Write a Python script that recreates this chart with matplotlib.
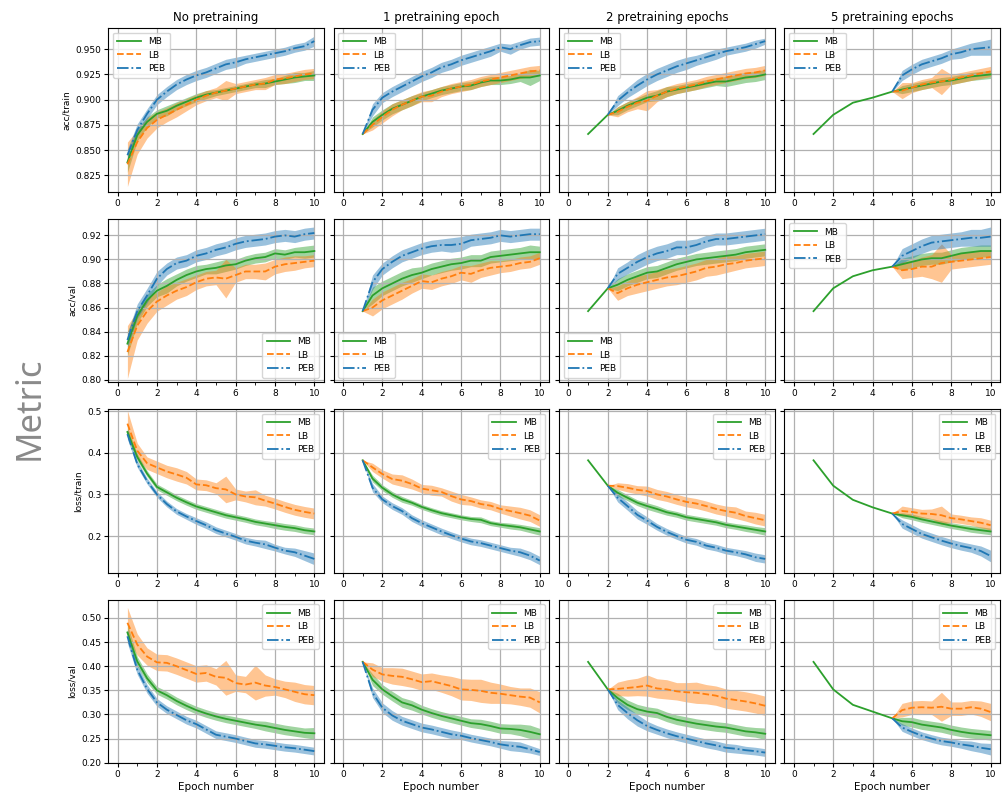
import matplotlib
matplotlib.use('Agg')
import matplotlib.pyplot as plt
from matplotlib.ticker import MultipleLocator

# epoch grids
x_p0 = [0.5, 1.0, 1.5, 2.0, 2.5, 3.0, 3.5, 4.0, 4.5, 5.0, 5.5, 6.0, 6.5, 7.0, 7.5, 8.0, 8.5, 9.0, 9.5, 10.0]
x_p1 = [1.5, 2.0, 2.5, 3.0, 3.5, 4.0, 4.5, 5.0, 5.5, 6.0, 6.5, 7.0, 7.5, 8.0, 8.5, 9.0, 9.5, 10.0]
x_p2 = [2.5, 3.0, 3.5, 4.0, 4.5, 5.0, 5.5, 6.0, 6.5, 7.0, 7.5, 8.0, 8.5, 9.0, 9.5, 10.0]
x_p5 = [5.5, 6.0, 6.5, 7.0, 7.5, 8.0, 8.5, 9.0, 9.5, 10.0]
x_pre = [1, 2, 3, 4, 5]

col_titles = ['No pretraining', '1 pretraining epoch', '2 pretraining epochs', '5 pretraining epochs']
pretrain_epochs = [0, 1, 2, 5]
metrics = ['acc_train', 'acc_val', 'loss_train', 'loss_val']
row_labels = ['acc/train', 'acc/val', 'loss/train', 'loss/val']
series = ['MB', 'LB', 'PEB']

# MB pretraining curve (shared by the pretrained columns)
pre_acc_train = [0.866, 0.885, 0.897, 0.902, 0.908]
pre_acc_val = [0.857, 0.876, 0.886, 0.891, 0.894]
pre_loss_train = [0.382, 0.321, 0.287, 0.269, 0.254]
pre_loss_val = [0.409, 0.352, 0.320, 0.306, 0.292]

# ---- acc/train ----
acc_train_p0_mb = [0.838, 0.865, 0.878, 0.886, 0.889, 0.894, 0.898, 0.902, 0.905, 0.907, 0.909, 0.911, 0.913, 0.915, 0.916, 0.918, 0.920, 0.922, 0.923, 0.924]
acc_train_p0_mb_sd = [0.010, 0.006, 0.005, 0.004, 0.005, 0.004, 0.004, 0.004, 0.004, 0.003, 0.003, 0.003, 0.003, 0.003, 0.004, 0.003, 0.004, 0.005, 0.004, 0.005]
acc_train_p0_lb = [0.836, 0.858, 0.872, 0.880, 0.885, 0.890, 0.895, 0.900, 0.904, 0.907, 0.909, 0.911, 0.913, 0.915, 0.916, 0.920, 0.921, 0.923, 0.925, 0.926]
acc_train_p0_lb_sd = [0.022, 0.012, 0.010, 0.008, 0.007, 0.007, 0.006, 0.005, 0.005, 0.005, 0.010, 0.005, 0.005, 0.005, 0.006, 0.005, 0.005, 0.005, 0.005, 0.005]
acc_train_p0_peb = [0.845, 0.870, 0.886, 0.900, 0.908, 0.915, 0.920, 0.924, 0.927, 0.931, 0.935, 0.937, 0.940, 0.942, 0.944, 0.946, 0.948, 0.951, 0.953, 0.958]
acc_train_p0_peb_sd = [0.006, 0.006, 0.005, 0.005, 0.005, 0.005, 0.005, 0.005, 0.005, 0.005, 0.005, 0.005, 0.004, 0.004, 0.004, 0.004, 0.004, 0.004, 0.004, 0.005]

acc_train_p1_mb = [0.878, 0.885, 0.891, 0.895, 0.899, 0.903, 0.906, 0.909, 0.911, 0.913, 0.914, 0.917, 0.919, 0.919, 0.920, 0.922, 0.922, 0.924]
acc_train_p1_mb_sd = [0.005, 0.005, 0.005, 0.005, 0.005, 0.004, 0.004, 0.004, 0.004, 0.004, 0.004, 0.004, 0.004, 0.004, 0.004, 0.004, 0.008, 0.005]
acc_train_p1_lb = [0.875, 0.883, 0.890, 0.895, 0.899, 0.903, 0.904, 0.908, 0.911, 0.913, 0.915, 0.918, 0.920, 0.922, 0.924, 0.926, 0.928, 0.929]
acc_train_p1_lb_sd = [0.005, 0.006, 0.006, 0.005, 0.005, 0.005, 0.006, 0.005, 0.005, 0.005, 0.005, 0.005, 0.005, 0.005, 0.005, 0.005, 0.005, 0.005]
acc_train_p1_peb = [0.890, 0.902, 0.908, 0.913, 0.918, 0.923, 0.927, 0.932, 0.935, 0.939, 0.942, 0.945, 0.948, 0.952, 0.950, 0.954, 0.957, 0.958]
acc_train_p1_peb_sd = [0.006, 0.005, 0.005, 0.005, 0.005, 0.005, 0.005, 0.005, 0.005, 0.005, 0.005, 0.005, 0.005, 0.004, 0.005, 0.004, 0.004, 0.004]

acc_train_p2_mb = [0.889, 0.894, 0.898, 0.902, 0.904, 0.908, 0.910, 0.912, 0.914, 0.916, 0.918, 0.918, 0.920, 0.922, 0.923, 0.925]
acc_train_p2_mb_sd = [0.004, 0.004, 0.004, 0.004, 0.005, 0.005, 0.004, 0.004, 0.004, 0.004, 0.004, 0.005, 0.005, 0.005, 0.005, 0.005]
acc_train_p2_lb = [0.888, 0.893, 0.897, 0.899, 0.904, 0.908, 0.911, 0.913, 0.915, 0.918, 0.920, 0.922, 0.924, 0.926, 0.927, 0.929]
acc_train_p2_lb_sd = [0.005, 0.005, 0.006, 0.010, 0.006, 0.005, 0.005, 0.005, 0.005, 0.005, 0.005, 0.005, 0.005, 0.005, 0.005, 0.005]
acc_train_p2_peb = [0.899, 0.907, 0.914, 0.920, 0.925, 0.929, 0.933, 0.936, 0.939, 0.942, 0.945, 0.948, 0.950, 0.952, 0.955, 0.958]
acc_train_p2_peb_sd = [0.005, 0.005, 0.006, 0.006, 0.006, 0.006, 0.006, 0.006, 0.005, 0.005, 0.005, 0.004, 0.004, 0.004, 0.004, 0.003]

acc_train_p5_mb = [0.910, 0.912, 0.914, 0.916, 0.918, 0.919, 0.921, 0.923, 0.924, 0.925]
acc_train_p5_mb_sd = [0.004, 0.004, 0.004, 0.004, 0.004, 0.004, 0.004, 0.004, 0.004, 0.004]
acc_train_p5_lb = [0.909, 0.912, 0.915, 0.917, 0.918, 0.920, 0.922, 0.924, 0.926, 0.928]
acc_train_p5_lb_sd = [0.008, 0.005, 0.005, 0.005, 0.013, 0.005, 0.005, 0.005, 0.005, 0.005]
acc_train_p5_peb = [0.924, 0.930, 0.935, 0.938, 0.941, 0.945, 0.947, 0.950, 0.951, 0.952]
acc_train_p5_peb_sd = [0.005, 0.005, 0.005, 0.005, 0.005, 0.005, 0.006, 0.006, 0.007, 0.008]

# ---- acc/val ----
acc_val_p0_mb = [0.830, 0.853, 0.866, 0.874, 0.878, 0.883, 0.887, 0.890, 0.892, 0.893, 0.895, 0.896, 0.899, 0.901, 0.902, 0.905, 0.904, 0.906, 0.906, 0.907]
acc_val_p0_mb_sd = [0.010, 0.006, 0.005, 0.005, 0.006, 0.005, 0.005, 0.005, 0.004, 0.005, 0.005, 0.004, 0.004, 0.004, 0.004, 0.004, 0.004, 0.004, 0.005, 0.005]
acc_val_p0_lb = [0.823, 0.845, 0.857, 0.865, 0.870, 0.874, 0.877, 0.881, 0.884, 0.885, 0.884, 0.887, 0.890, 0.890, 0.890, 0.894, 0.896, 0.897, 0.898, 0.899]
acc_val_p0_lb_sd = [0.022, 0.012, 0.010, 0.008, 0.008, 0.007, 0.007, 0.006, 0.006, 0.006, 0.016, 0.006, 0.006, 0.006, 0.007, 0.006, 0.006, 0.006, 0.005, 0.005]
acc_val_p0_peb = [0.833, 0.857, 0.870, 0.884, 0.892, 0.897, 0.899, 0.903, 0.905, 0.908, 0.910, 0.913, 0.915, 0.916, 0.917, 0.919, 0.920, 0.919, 0.921, 0.922]
acc_val_p0_peb_sd = [0.006, 0.006, 0.006, 0.006, 0.005, 0.005, 0.005, 0.005, 0.005, 0.005, 0.005, 0.005, 0.005, 0.005, 0.005, 0.005, 0.005, 0.005, 0.005, 0.005]

acc_val_p1_mb = [0.870, 0.876, 0.880, 0.884, 0.887, 0.889, 0.892, 0.894, 0.896, 0.897, 0.899, 0.899, 0.902, 0.903, 0.904, 0.905, 0.906, 0.906]
acc_val_p1_mb_sd = [0.007, 0.006, 0.006, 0.006, 0.006, 0.005, 0.005, 0.005, 0.005, 0.005, 0.005, 0.005, 0.005, 0.005, 0.005, 0.005, 0.006, 0.005]
acc_val_p1_lb = [0.860, 0.866, 0.870, 0.874, 0.878, 0.882, 0.881, 0.884, 0.886, 0.889, 0.888, 0.891, 0.893, 0.894, 0.895, 0.897, 0.898, 0.901]
acc_val_p1_lb_sd = [0.007, 0.007, 0.007, 0.007, 0.006, 0.006, 0.006, 0.006, 0.006, 0.006, 0.007, 0.006, 0.006, 0.005, 0.005, 0.005, 0.005, 0.005]
acc_val_p1_peb = [0.881, 0.892, 0.898, 0.903, 0.906, 0.909, 0.911, 0.912, 0.912, 0.913, 0.916, 0.917, 0.918, 0.920, 0.919, 0.920, 0.921, 0.921]
acc_val_p1_peb_sd = [0.006, 0.005, 0.005, 0.005, 0.005, 0.005, 0.005, 0.005, 0.006, 0.006, 0.005, 0.005, 0.005, 0.005, 0.005, 0.005, 0.005, 0.005]

acc_val_p2_mb = [0.879, 0.883, 0.886, 0.889, 0.890, 0.893, 0.896, 0.898, 0.900, 0.901, 0.902, 0.903, 0.904, 0.906, 0.907, 0.908]
acc_val_p2_mb_sd = [0.005, 0.005, 0.005, 0.005, 0.005, 0.005, 0.005, 0.005, 0.005, 0.005, 0.005, 0.005, 0.005, 0.005, 0.005, 0.005]
acc_val_p2_lb = [0.872, 0.876, 0.879, 0.881, 0.883, 0.885, 0.886, 0.888, 0.890, 0.893, 0.894, 0.896, 0.897, 0.899, 0.900, 0.901]
acc_val_p2_lb_sd = [0.006, 0.006, 0.007, 0.007, 0.007, 0.007, 0.007, 0.007, 0.007, 0.007, 0.007, 0.007, 0.006, 0.006, 0.006, 0.006]
acc_val_p2_peb = [0.888, 0.893, 0.898, 0.902, 0.905, 0.907, 0.910, 0.910, 0.912, 0.915, 0.917, 0.917, 0.918, 0.919, 0.920, 0.921]
acc_val_p2_peb_sd = [0.005, 0.005, 0.006, 0.006, 0.006, 0.006, 0.006, 0.006, 0.005, 0.005, 0.005, 0.005, 0.005, 0.005, 0.005, 0.005]

acc_val_p5_mb = [0.896, 0.898, 0.900, 0.901, 0.901, 0.903, 0.905, 0.906, 0.907, 0.907]
acc_val_p5_mb_sd = [0.005, 0.005, 0.005, 0.005, 0.005, 0.005, 0.005, 0.005, 0.005, 0.005]
acc_val_p5_lb = [0.891, 0.892, 0.894, 0.894, 0.897, 0.898, 0.899, 0.900, 0.901, 0.902]
acc_val_p5_lb_sd = [0.007, 0.007, 0.008, 0.010, 0.016, 0.006, 0.006, 0.006, 0.006, 0.006]
acc_val_p5_peb = [0.903, 0.907, 0.911, 0.914, 0.915, 0.916, 0.917, 0.918, 0.918, 0.919]
acc_val_p5_peb_sd = [0.006, 0.006, 0.006, 0.006, 0.006, 0.006, 0.006, 0.007, 0.007, 0.008]

# ---- loss/train ----
loss_train_p0_mb = [0.450, 0.390, 0.350, 0.318, 0.305, 0.292, 0.281, 0.271, 0.264, 0.257, 0.250, 0.245, 0.240, 0.234, 0.230, 0.226, 0.222, 0.219, 0.214, 0.211]
loss_train_p0_mb_sd = [0.012, 0.008, 0.007, 0.007, 0.007, 0.007, 0.007, 0.007, 0.007, 0.007, 0.007, 0.007, 0.007, 0.007, 0.007, 0.008, 0.008, 0.008, 0.008, 0.008]
loss_train_p0_lb = [0.470, 0.405, 0.375, 0.365, 0.355, 0.348, 0.340, 0.324, 0.322, 0.315, 0.312, 0.300, 0.295, 0.293, 0.285, 0.278, 0.270, 0.263, 0.258, 0.254]
loss_train_p0_lb_sd = [0.032, 0.018, 0.015, 0.015, 0.015, 0.016, 0.015, 0.013, 0.013, 0.013, 0.032, 0.013, 0.013, 0.018, 0.013, 0.013, 0.013, 0.013, 0.013, 0.013]
loss_train_p0_peb = [0.445, 0.373, 0.332, 0.300, 0.277, 0.259, 0.247, 0.236, 0.226, 0.214, 0.206, 0.198, 0.189, 0.184, 0.180, 0.172, 0.165, 0.161, 0.153, 0.145]
loss_train_p0_peb_sd = [0.012, 0.008, 0.007, 0.007, 0.007, 0.007, 0.007, 0.008, 0.008, 0.008, 0.008, 0.008, 0.008, 0.008, 0.010, 0.008, 0.008, 0.010, 0.012, 0.014]

loss_train_p1_mb = [0.338, 0.316, 0.300, 0.288, 0.280, 0.270, 0.262, 0.255, 0.250, 0.245, 0.241, 0.239, 0.231, 0.227, 0.224, 0.221, 0.216, 0.211]
loss_train_p1_mb_sd = [0.008, 0.007, 0.007, 0.007, 0.006, 0.006, 0.006, 0.006, 0.006, 0.006, 0.006, 0.007, 0.006, 0.006, 0.007, 0.007, 0.008, 0.009]
loss_train_p1_lb = [0.365, 0.349, 0.337, 0.333, 0.325, 0.314, 0.310, 0.306, 0.296, 0.288, 0.284, 0.277, 0.273, 0.265, 0.260, 0.255, 0.249, 0.237]
loss_train_p1_lb_sd = [0.010, 0.010, 0.012, 0.014, 0.012, 0.010, 0.012, 0.010, 0.012, 0.012, 0.010, 0.010, 0.010, 0.010, 0.012, 0.014, 0.014, 0.014]
loss_train_p1_peb = [0.316, 0.288, 0.272, 0.260, 0.243, 0.231, 0.221, 0.211, 0.202, 0.194, 0.187, 0.183, 0.177, 0.171, 0.165, 0.161, 0.153, 0.141]
loss_train_p1_peb_sd = [0.010, 0.008, 0.008, 0.008, 0.008, 0.008, 0.008, 0.008, 0.008, 0.008, 0.008, 0.008, 0.008, 0.008, 0.008, 0.010, 0.010, 0.010]

loss_train_p2_mb = [0.304, 0.292, 0.280, 0.272, 0.265, 0.257, 0.252, 0.245, 0.241, 0.237, 0.233, 0.227, 0.223, 0.219, 0.215, 0.211]
loss_train_p2_mb_sd = [0.008, 0.007, 0.007, 0.008, 0.008, 0.007, 0.007, 0.007, 0.007, 0.007, 0.007, 0.007, 0.007, 0.008, 0.008, 0.009]
loss_train_p2_lb = [0.320, 0.316, 0.311, 0.308, 0.300, 0.295, 0.288, 0.282, 0.278, 0.272, 0.265, 0.260, 0.256, 0.248, 0.243, 0.238]
loss_train_p2_lb_sd = [0.008, 0.010, 0.010, 0.012, 0.012, 0.012, 0.012, 0.012, 0.012, 0.012, 0.012, 0.012, 0.014, 0.012, 0.014, 0.014]
loss_train_p2_peb = [0.292, 0.272, 0.251, 0.237, 0.222, 0.210, 0.200, 0.191, 0.186, 0.177, 0.172, 0.165, 0.161, 0.156, 0.149, 0.145]
loss_train_p2_peb_sd = [0.010, 0.010, 0.010, 0.009, 0.008, 0.008, 0.008, 0.008, 0.008, 0.008, 0.008, 0.008, 0.008, 0.009, 0.010, 0.010]

loss_train_p5_mb = [0.250, 0.246, 0.240, 0.235, 0.230, 0.225, 0.221, 0.217, 0.214, 0.211]
loss_train_p5_mb_sd = [0.006, 0.007, 0.007, 0.007, 0.007, 0.007, 0.007, 0.008, 0.008, 0.008]
loss_train_p5_lb = [0.260, 0.258, 0.254, 0.253, 0.250, 0.243, 0.240, 0.236, 0.232, 0.226]
loss_train_p5_lb_sd = [0.012, 0.010, 0.010, 0.012, 0.022, 0.010, 0.010, 0.010, 0.012, 0.012]
loss_train_p5_peb = [0.229, 0.217, 0.205, 0.197, 0.189, 0.182, 0.176, 0.171, 0.164, 0.152]
loss_train_p5_peb_sd = [0.010, 0.010, 0.010, 0.010, 0.010, 0.010, 0.010, 0.010, 0.012, 0.014]

# ---- loss/val ----
loss_val_p0_mb = [0.470, 0.410, 0.375, 0.350, 0.340, 0.328, 0.318, 0.309, 0.302, 0.296, 0.291, 0.287, 0.283, 0.279, 0.276, 0.272, 0.268, 0.265, 0.262, 0.261]
loss_val_p0_mb_sd = [0.018, 0.010, 0.009, 0.008, 0.008, 0.008, 0.008, 0.008, 0.008, 0.008, 0.008, 0.008, 0.008, 0.008, 0.010, 0.010, 0.010, 0.010, 0.010, 0.012]
loss_val_p0_lb = [0.490, 0.445, 0.420, 0.408, 0.407, 0.400, 0.392, 0.384, 0.386, 0.378, 0.376, 0.365, 0.362, 0.366, 0.360, 0.357, 0.352, 0.347, 0.342, 0.340]
loss_val_p0_lb_sd = [0.032, 0.022, 0.018, 0.017, 0.017, 0.017, 0.017, 0.017, 0.017, 0.017, 0.036, 0.017, 0.017, 0.036, 0.022, 0.017, 0.017, 0.020, 0.020, 0.020]
loss_val_p0_peb = [0.462, 0.393, 0.353, 0.325, 0.310, 0.299, 0.288, 0.280, 0.269, 0.258, 0.254, 0.250, 0.245, 0.240, 0.238, 0.235, 0.232, 0.230, 0.227, 0.224]
loss_val_p0_peb_sd = [0.014, 0.010, 0.009, 0.008, 0.008, 0.008, 0.008, 0.008, 0.008, 0.008, 0.008, 0.008, 0.008, 0.008, 0.008, 0.008, 0.008, 0.008, 0.008, 0.008]

loss_val_p1_mb = [0.372, 0.352, 0.338, 0.325, 0.319, 0.310, 0.303, 0.297, 0.292, 0.287, 0.282, 0.280, 0.276, 0.271, 0.270, 0.268, 0.264, 0.259]
loss_val_p1_mb_sd = [0.012, 0.010, 0.010, 0.010, 0.010, 0.009, 0.009, 0.009, 0.009, 0.009, 0.009, 0.010, 0.010, 0.010, 0.010, 0.012, 0.014, 0.012]
loss_val_p1_lb = [0.393, 0.383, 0.380, 0.378, 0.373, 0.367, 0.369, 0.364, 0.359, 0.352, 0.351, 0.349, 0.345, 0.343, 0.340, 0.337, 0.335, 0.325]
loss_val_p1_lb_sd = [0.014, 0.014, 0.017, 0.018, 0.017, 0.017, 0.017, 0.018, 0.020, 0.022, 0.022, 0.024, 0.022, 0.020, 0.018, 0.018, 0.020, 0.022]
loss_val_p1_peb = [0.345, 0.314, 0.298, 0.287, 0.280, 0.273, 0.269, 0.264, 0.259, 0.256, 0.251, 0.247, 0.243, 0.238, 0.235, 0.233, 0.228, 0.222]
loss_val_p1_peb_sd = [0.010, 0.010, 0.010, 0.009, 0.009, 0.009, 0.009, 0.009, 0.009, 0.008, 0.008, 0.008, 0.008, 0.008, 0.010, 0.010, 0.008, 0.007]

loss_val_p2_mb = [0.334, 0.320, 0.311, 0.306, 0.303, 0.295, 0.289, 0.285, 0.281, 0.278, 0.275, 0.273, 0.269, 0.265, 0.263, 0.260]
loss_val_p2_mb_sd = [0.010, 0.010, 0.010, 0.010, 0.010, 0.010, 0.010, 0.010, 0.010, 0.010, 0.010, 0.010, 0.010, 0.010, 0.010, 0.012]
loss_val_p2_lb = [0.353, 0.355, 0.357, 0.360, 0.354, 0.352, 0.348, 0.346, 0.345, 0.342, 0.339, 0.333, 0.330, 0.327, 0.323, 0.318]
loss_val_p2_lb_sd = [0.014, 0.017, 0.018, 0.022, 0.020, 0.020, 0.018, 0.020, 0.022, 0.020, 0.020, 0.020, 0.020, 0.020, 0.020, 0.020]
loss_val_p2_peb = [0.320, 0.303, 0.288, 0.276, 0.268, 0.261, 0.255, 0.250, 0.245, 0.240, 0.236, 0.231, 0.229, 0.226, 0.224, 0.221]
loss_val_p2_peb_sd = [0.010, 0.012, 0.012, 0.010, 0.009, 0.009, 0.009, 0.009, 0.009, 0.009, 0.009, 0.009, 0.009, 0.008, 0.008, 0.008]

loss_val_p5_mb = [0.286, 0.284, 0.279, 0.276, 0.273, 0.268, 0.264, 0.261, 0.259, 0.257]
loss_val_p5_mb_sd = [0.008, 0.010, 0.010, 0.010, 0.010, 0.010, 0.010, 0.010, 0.010, 0.010]
loss_val_p5_lb = [0.309, 0.314, 0.315, 0.314, 0.316, 0.312, 0.312, 0.315, 0.312, 0.305]
loss_val_p5_lb_sd = [0.014, 0.014, 0.014, 0.014, 0.030, 0.014, 0.014, 0.014, 0.016, 0.018]
loss_val_p5_peb = [0.273, 0.264, 0.256, 0.250, 0.245, 0.242, 0.238, 0.235, 0.231, 0.228]
loss_val_p5_peb_sd = [0.008, 0.008, 0.008, 0.008, 0.008, 0.008, 0.008, 0.010, 0.010, 0.012]

x_after = {0: x_p0, 1: x_p1, 2: x_p2, 5: x_p5}
colors = {'MB': 'tab:green', 'LB': 'tab:orange', 'PEB': 'tab:blue'}
styles = {'MB': '-', 'LB': '--', 'PEB': '-.'}

ylims = [(0.809, 0.971), (0.798, 0.934), (0.112, 0.505), (0.199, 0.538)]
ysteps = [0.025, 0.02, 0.1, 0.05]
legend_locs = [
    ['upper left', 'upper left', 'upper left', 'upper left'],
    ['lower right', 'lower left', 'lower left', 'upper left'],
    ['upper right', 'upper right', 'upper right', 'upper right'],
    ['upper right', 'upper right', 'upper right', 'upper right'],
]

fig, axes = plt.subplots(4, 4, figsize=(10.02, 8.0), dpi=100, sharey='row')
fig.subplots_adjust(left=0.108, right=0.998, top=0.965, bottom=0.046, wspace=0.046, hspace=0.165)

for r, m in enumerate(metrics):
    pre = globals()['pre_' + m]
    for c, p in enumerate(pretrain_epochs):
        ax = axes[r, c]
        for s in series:
            y = list(globals()[f'{m}_p{p}_{s.lower()}'])
            sd = list(globals()[f'{m}_p{p}_{s.lower()}_sd'])
            x = list(x_after[p])
            if p > 0:
                if s == 'MB':
                    x = x_pre[:p] + x
                    y = pre[:p] + y
                    sd = [0.0] * p + sd
                else:
                    x = [x_pre[p - 1]] + x
                    y = [pre[p - 1]] + y
                    sd = [0.0] + sd
            lo = [a - b for a, b in zip(y, sd)]
            hi = [a + b for a, b in zip(y, sd)]
            ax.fill_between(x, lo, hi, color=colors[s], alpha=0.45, lw=0)
            ax.plot(x, y, styles[s], color=colors[s], lw=1.3, label=s)
        ax.set_xlim(-0.475, 10.475)
        ax.set_ylim(*ylims[r])
        ax.xaxis.set_major_locator(MultipleLocator(2))
        ax.xaxis.set_minor_locator(MultipleLocator(1))
        ax.yaxis.set_major_locator(MultipleLocator(ysteps[r]))
        ax.grid(True, color='#b0b0b0', lw=0.9)
        ax.tick_params(labelsize=6.5, length=3, pad=2)
        ax.tick_params(which='minor', length=2)
        ax.tick_params(axis='y', labelleft=(c == 0))
        ax.legend(loc=legend_locs[r][c], fontsize=6.5, handlelength=2.6, borderpad=0.5, labelspacing=0.5)
        if r == 0:
            ax.set_title(col_titles[c], fontsize=8.5, pad=5)
        if r == 3:
            ax.set_xlabel('Epoch number', fontsize=7.5, labelpad=2)
        if c == 0:
            ax.set_ylabel(row_labels[r], fontsize=6.5, labelpad=3)

fig.text(0.03, 0.49, 'Metric', rotation=90, fontsize=25, color='#8a8a8a',
         family='Noto Sans', ha='center', va='center')

fig.savefig('out.png', dpi=100)
